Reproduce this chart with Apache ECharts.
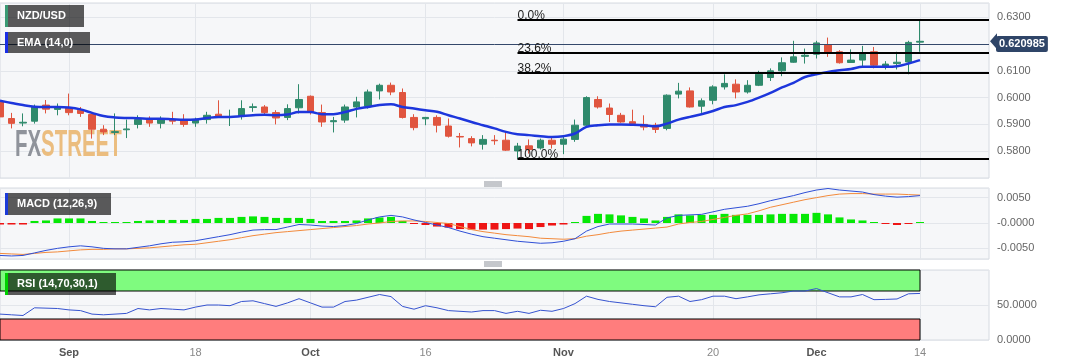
<!DOCTYPE html>
<html><head><meta charset="utf-8">
<script src="https://cdn.jsdelivr.net/npm/echarts@6/dist/echarts.min.js"></script>
<style>html,body{margin:0;padding:0;background:#fff}#c{width:1067px;height:360px}</style>
</head><body><div id="c"></div>
<script>
// ---- categories (trading days, 2023) ----
const categories = [
 '08-24','08-25','08-28','08-29','08-30','08-31',
 '09-01','09-04','09-05','09-06','09-07','09-08','09-11','09-12','09-13','09-14','09-15','09-18','09-19','09-20','09-21','09-22','09-25','09-26','09-27','09-28','09-29',
 '10-02','10-03','10-04','10-05','10-06','10-09','10-10','10-11','10-12','10-13','10-16','10-17','10-18','10-19','10-20','10-23','10-24','10-25','10-26','10-27','10-30','10-31',
 '11-01','11-02','11-03','11-06','11-07','11-08','11-09','11-10','11-13','11-14','11-15','11-16','11-17','11-20','11-21','11-22','11-23','11-24','11-27','11-28','11-29','11-30',
 '12-01','12-04','12-05','12-06','12-07','12-08','12-11','12-12','12-13','12-14',
 '12-15','12-18','12-19','12-20','12-21','12-22'
];
const tickCats  = ['09-01','09-18','10-02','10-16','11-01','11-20','12-01','12-14'];
const tickTexts = ['Sep','18','Oct','16','Nov','20','Dec','14'];
const tickMonth = [true,false,true,false,true,false,true,false];

// ---- candles: [open, close, low, high] ----
const candles = [
 [0.5984,0.5928,0.5920,0.5990],[0.5922,0.5904,0.5885,0.5943],[0.5905,0.5908,0.5893,0.5941],[0.5912,0.5965,0.5903,0.5974],
 [0.5972,0.5957,0.5941,0.5991],[0.5956,0.5962,0.5934,0.5978],[0.5962,0.5944,0.5934,0.6015],[0.5953,0.5941,0.5928,0.5965],
 [0.5937,0.5882,0.5847,0.5939],[0.5882,0.5872,0.5860,0.5897],[0.5870,0.5873,0.5860,0.5941],[0.5880,0.5883,0.5849,0.5918],
 [0.5900,0.5918,0.5885,0.5934],[0.5918,0.5905,0.5891,0.5930],[0.5904,0.5918,0.5885,0.5930],[0.5918,0.5912,0.5900,0.5947],
 [0.5913,0.5900,0.5891,0.5938],[0.5905,0.5918,0.5891,0.5925],[0.5918,0.5934,0.5903,0.5947],[0.5938,0.5931,0.5926,0.5990],
 [0.5926,0.5929,0.5894,0.5955],[0.5931,0.5959,0.5918,0.5990],[0.5963,0.5966,0.5947,0.5978],[0.5965,0.5944,0.5938,0.5972],
 [0.5944,0.5924,0.5900,0.5953],[0.5926,0.5959,0.5916,0.5975],[0.5962,0.5993,0.5941,0.6050],[0.6005,0.5947,0.5937,0.6008],
 [0.5944,0.5909,0.5891,0.5974],[0.5910,0.5914,0.5870,0.5928],[0.5916,0.5965,0.5906,0.5974],[0.5965,0.5984,0.5926,0.6003],
 [0.5968,0.6021,0.5959,0.6030],[0.6025,0.6046,0.5993,0.6052],[0.6046,0.6021,0.6009,0.6056],[0.6019,0.5926,0.5922,0.6034],
 [0.5926,0.5888,0.5878,0.5938],[0.5921,0.5926,0.5897,0.5928],[0.5926,0.5897,0.5870,0.5934],[0.5894,0.5856,0.5851,0.5922],
 [0.5855,0.5853,0.5814,0.5868],[0.5847,0.5831,0.5818,0.5856],[0.5826,0.5844,0.5806,0.5860],[0.5841,0.5839,0.5824,0.5860],
 [0.5841,0.5804,0.5801,0.5872],[0.5801,0.5819,0.5772,0.5831],[0.5820,0.5806,0.5791,0.5844],[0.5812,0.5841,0.5806,0.5847],
 [0.5841,0.5826,0.5810,0.5856],[0.5826,0.5845,0.5789,0.5856],[0.5844,0.5897,0.5835,0.5918],[0.5897,0.6000,0.5891,0.6005],
 [0.5993,0.5965,0.5959,0.6005],[0.5961,0.5937,0.5909,0.5978],[0.5934,0.5909,0.5906,0.5943],[0.5910,0.5903,0.5897,0.5955],
 [0.5900,0.5890,0.5878,0.5934],[0.5897,0.5881,0.5868,0.5906],[0.5885,0.6009,0.5878,0.6012],[0.6013,0.6024,0.5997,0.6055],
 [0.6025,0.5965,0.5963,0.6038],[0.5968,0.5988,0.5943,0.5997],[0.5990,0.6040,0.5975,0.6046],[0.6040,0.6053,0.6030,0.6087],
 [0.6050,0.6021,0.5997,0.6068],[0.6021,0.6046,0.6015,0.6065],[0.6046,0.6087,0.6043,0.6100],[0.6075,0.6100,0.6062,0.6109],
 [0.6100,0.6130,0.6080,0.6150],[0.6132,0.6152,0.6130,0.6212],[0.6154,0.6158,0.6127,0.6183],[0.6162,0.6204,0.6146,0.6212],
 [0.6196,0.6167,0.6152,0.6224],[0.6171,0.6130,0.6127,0.6177],[0.6131,0.6140,0.6130,0.6180],[0.6140,0.6167,0.6115,0.6193],
 [0.6171,0.6121,0.6109,0.6189],[0.6117,0.6125,0.6105,0.6136],[0.6127,0.6132,0.6105,0.6171],[0.6133,0.6206,0.6087,0.6212],
 [0.6207,0.6210,0.6171,0.6289]
];

// ---- EMA(14) ----
const ema14 = [
 0.5988,0.5980,0.5972,0.5966,0.5965,0.5965,0.5963,0.5956,0.5943,0.5931,0.5926,0.5924,0.5923,0.5921,0.5921,0.5919,
 0.5917,0.5918,0.5924,0.5928,0.5928,0.5931,0.5934,0.5936,0.5934,0.5937,0.5946,0.5946,0.5938,0.5938,0.5946,0.5958,
 0.5965,0.5972,0.5975,0.5965,0.5959,0.5953,0.5947,0.5934,0.5922,0.5909,0.5897,0.5885,0.5872,0.5863,0.5860,0.5856,
 0.5853,0.5856,0.5866,0.5891,0.5897,0.5900,0.5900,0.5899,0.5897,0.5893,0.5903,0.5918,0.5928,0.5938,0.5950,0.5965,
 0.5972,0.5984,0.6000,0.6018,0.6038,0.6055,0.6077,0.6087,0.6096,0.6102,0.6107,0.6115,0.6115,0.6115,0.6117,0.6127,0.6140
];

// ---- Fibonacci levels and last price ----
const fibLevels = [0.6289, 0.6167, 0.6092, 0.5772];
const fibLabels = ['0.0%', '23.6%', '38.2%', '100.0%'];
const fibStartCat = '10-26';
const lastPrice = 0.620985;

// ---- MACD (12,26,9) ----
const macdLine = [
 -0.0064,-0.0065,-0.0064,-0.0059,-0.0054,-0.0050,-0.0047,-0.0045,-0.0047,-0.0050,-0.0051,-0.0051,-0.0048,-0.0045,-0.0041,-0.0038,
 -0.0037,-0.0035,-0.0031,-0.0027,-0.0023,-0.0018,-0.0014,-0.0013,-0.0013,-0.0008,-0.0003,-0.0004,-0.0006,-0.0007,-0.0005,-0.0001,
 0.0006,0.0012,0.0015,0.0012,0.0006,0.0001,-0.0004,-0.0009,-0.0016,-0.0022,-0.0027,-0.0030,-0.0033,-0.0036,-0.0038,-0.0040,
 -0.0039,-0.0036,-0.0031,-0.0016,-0.0007,-0.0002,-0.0002,-0.0002,-0.0003,-0.0004,0.0010,0.0015,0.0016,0.0017,0.0022,0.0027,
 0.0030,0.0033,0.0038,0.0044,0.0049,0.0054,0.0060,0.0065,0.0068,0.0065,0.0063,0.0061,0.0056,0.0053,0.0051,0.0052,0.0054
];
const macdSignal = [
 -0.0060,-0.0061,-0.0062,-0.0060,-0.0058,-0.0057,-0.0055,-0.0053,-0.0052,-0.0052,-0.0051,-0.0051,-0.0050,-0.0049,-0.0047,-0.0045,
 -0.0043,-0.0042,-0.0039,-0.0036,-0.0033,-0.0029,-0.0025,-0.0022,-0.0019,-0.0017,-0.0015,-0.0013,-0.0011,-0.0009,-0.0007,-0.0005,
 -0.0002,0.0000,0.0003,0.0004,0.0004,0.0003,0.0001,-0.0001,-0.0007,-0.0013,-0.0017,-0.0020,-0.0023,-0.0025,-0.0027,-0.0030,
 -0.0031,-0.0032,-0.0031,-0.0026,-0.0023,-0.0019,-0.0016,-0.0014,-0.0012,-0.0010,-0.0008,-0.0002,0.0001,0.0003,0.0007,0.0011,
 0.0015,0.0018,0.0024,0.0031,0.0036,0.0041,0.0046,0.0050,0.0054,0.0057,0.0058,0.0058,0.0057,0.0057,0.0057,0.0056,0.0055
];
const macdHist = [
 -0.0003,-0.0003,-0.0003,0.0004,0.0005,0.0009,0.0009,0.0009,0.0004,0.0002,0.0001,0.0001,0.0004,0.0005,0.0006,0.0006,
 0.0006,0.0008,0.0008,0.0010,0.0010,0.0012,0.0013,0.0012,0.0010,0.0010,0.0010,0.0008,0.0004,0.0004,0.0004,0.0005,
 0.0009,0.0011,0.0012,0.0004,-0.0001,-0.0004,-0.0007,-0.0009,-0.0012,-0.0013,-0.0013,-0.0013,-0.0012,-0.0011,-0.0012,-0.0008,
 -0.0005,-0.0003,0.0002,0.0014,0.0018,0.0017,0.0015,0.0012,0.0009,0.0005,0.0012,0.0017,0.0015,0.0016,0.0016,0.0018,
 0.0016,0.0016,0.0016,0.0017,0.0018,0.0018,0.0018,0.0020,0.0017,0.0011,0.0007,0.0005,0.0001,-0.0002,-0.0004,-0.0002,0.0001
];

// ---- RSI (14) ----
const rsi = [
 37,36,35,46,45.5,45,43,42,37,36,37,38,45,43,45,44,
 43,47,50,50,49,55,56,52,48,53,59,53,47,47,55,57,
 61,65,62,48,44,49,46,42,41,40,42,42,38,41,38,42.5,
 41,45,52,62.6,58,55,53,51,49,47.5,61,62.6,55,57.6,62.6,62.6,
 59,61.6,64.5,66,67.5,70,70,73.5,67.5,61.6,61.6,65,57.6,58,58.6,66,66.5
];
const rsiUpper = 70, rsiLower = 30;

const UP = '#2f8a6c', DOWN = '#e0553f';
const GRIDLINE = '#e3e6eb';
const FONT = 'Liberation Sans, Arial, sans-serif';

const chart = echarts.init(document.getElementById('c'), null, {renderer: 'canvas'});

function xAxisFor(gridIndex, showLabels) {
  return {
    type: 'category', gridIndex, data: categories, boundaryGap: false,
    axisLine: {show: false}, axisTick: {show: false},
    splitLine: {show: true, interval: (i, v) => tickCats.includes(v), lineStyle: {color: GRIDLINE, width: 1}},
    axisLabel: {
      show: showLabels, interval: (i, v) => tickCats.includes(v), margin: 7, fontSize: 11, fontFamily: FONT,
      formatter: v => { const k = tickCats.indexOf(v); if (k < 0) return ''; return tickMonth[k] ? '{b|' + tickTexts[k] + '}' : '{n|' + tickTexts[k] + '}'; },
      rich: {b: {fontWeight: 'bold', color: '#555', fontSize: 11, fontFamily: FONT}, n: {color: '#888', fontSize: 11, fontFamily: FONT}}
    }
  };
}

const gridBase = {left: 0, right: 78, show: true, backgroundColor: '#f6f7f9', borderColor: '#d6dae1', borderWidth: 1, containLabel: false, outerBoundsMode: 'none'};

const fibMark = fibLevels.map((v, k) => [
  {xAxis: fibStartCat, yAxis: v, lineStyle: {color: '#000', width: 2, type: 'solid'},
   label: {show: true, position: 'insideStartTop', formatter: fibLabels[k], color: '#222', fontSize: 12, fontFamily: FONT, distance: [0, -2]}},
  {xAxis: categories[categories.length - 1], yAxis: v}
]);

const option = {
  animation: false,
  backgroundColor: '#ffffff',
  textStyle: {fontFamily: FONT},
  grid: [
    Object.assign({top: 3, height: 175}, gridBase),
    Object.assign({top: 188, height: 71}, gridBase),
    Object.assign({top: 270, height: 70}, gridBase)
  ],
  xAxis: [xAxisFor(0, false), xAxisFor(1, false), xAxisFor(2, true)],
  yAxis: [
    {type: 'value', gridIndex: 0, position: 'right', min: 0.57, max: 0.6353, interval: 0.01, scale: true,
     axisLine: {show: false}, axisTick: {show: false}, splitLine: {lineStyle: {color: GRIDLINE}},
     axisLabel: {color: '#666', fontSize: 11, margin: 8, showMaxLabel: false, showMinLabel: false,
       formatter: v => Math.abs(v - 0.62) < 1e-6 ? '' : v.toFixed(4)}},
    {type: 'value', gridIndex: 1, position: 'right', min: -0.0071, max: 0.0069, splitNumber: 3,
     axisLine: {show: false}, axisTick: {show: false}, splitLine: {lineStyle: {color: GRIDLINE}},
     axisLabel: {color: '#666', fontSize: 11, margin: 8, showMaxLabel: false, showMinLabel: false,
       formatter: v => Math.abs(v) < 1e-9 ? '-0.0000' : v.toFixed(4)}},
    {type: 'value', gridIndex: 2, position: 'right', min: 0, max: 100, interval: 50,
     axisLine: {show: false}, axisTick: {show: false}, splitLine: {lineStyle: {color: GRIDLINE}},
     axisLabel: {color: '#666', fontSize: 11, margin: 8, showMaxLabel: false, formatter: v => v.toFixed(4)}}
  ],
  series: [
    {type: 'candlestick', name: 'NZD/USD', xAxisIndex: 0, yAxisIndex: 0, data: candles, barWidth: 7, z: 3,
     itemStyle: {color: UP, color0: DOWN, borderColor: UP, borderColor0: DOWN, borderColorDoji: UP, borderWidth: 1},
     markLine: {silent: true, symbol: ['none', 'none'], animation: false,
       data: [
         {yAxis: lastPrice, lineStyle: {color: '#34486b', width: 1, type: 'solid'},
          label: {show: true, position: 'end', distance: 7, formatter: String(lastPrice), color: '#fff', fontWeight: 'bold',
                  fontSize: 11, fontFamily: FONT, backgroundColor: '#2f4568', padding: [3, 3, 2, 3], borderRadius: 2}}
       ].concat(fibMark)}
    },
    {type: 'line', name: 'EMA (14,0)', xAxisIndex: 0, yAxisIndex: 0, data: ema14, showSymbol: false, smooth: 0.35, z: 4,
     lineStyle: {color: '#1d36dc', width: 2.5}},
    {type: 'bar', name: 'hist', xAxisIndex: 1, yAxisIndex: 1, data: macdHist, barWidth: 8, barMinHeight: 1, z: 2,
     itemStyle: {color: p => p.value >= 0 ? '#06e806' : '#ee1515'}},
    {type: 'line', name: 'MACD', xAxisIndex: 1, yAxisIndex: 1, data: macdLine, showSymbol: false, z: 4,
     lineStyle: {color: '#2f4fd6', width: 1}},
    {type: 'line', name: 'Signal', xAxisIndex: 1, yAxisIndex: 1, data: macdSignal, showSymbol: false, z: 3,
     lineStyle: {color: '#f28a3c', width: 1}},
    {type: 'line', name: 'RSI', xAxisIndex: 2, yAxisIndex: 2, data: rsi, showSymbol: false, z: 4,
     lineStyle: {color: '#3653cf', width: 1},
     markArea: {silent: true, data: [
       [{xAxis: categories[0], yAxis: rsiUpper, itemStyle: {color: '#7ffb7f', borderColor: '#000', borderWidth: 1}},
        {xAxis: categories[candles.length - 1], yAxis: 100}],
       [{xAxis: categories[0], yAxis: 0, itemStyle: {color: '#ff7d7d', borderColor: '#000', borderWidth: 1}},
        {xAxis: categories[candles.length - 1], yAxis: rsiLower}]
     ]}}
  ]
};
chart.setOption(option);

// ---- overlay decorations (legend tags, watermark, separators, price arrow) ----
function tag(x, y, w, h, stripe, text) {
  return {type: 'group', x, y, z: 100, children: [
    {type: 'rect', shape: {x: 0, y: 0, width: w, height: h}, style: {fill: 'rgba(0,0,0,0.64)'}, z: 100},
    {type: 'rect', shape: {x: 0, y: 0, width: 3, height: h}, style: {fill: stripe}, z: 101},
    {type: 'text', x: 12, y: h / 2, z: 101, style: {text, fill: '#fff', font: 'bold 11px ' + FONT, textVerticalAlign: 'middle'}}
  ]};
}
function separator(cx, cy) {
  return {type: 'group', x: cx, y: cy, z: 50, children: [0, 2, 4].map(d => ({
    type: 'line', shape: {x1: -9, y1: d, x2: 9, y2: d}, style: {stroke: '#8a8f98', lineWidth: 1}}))};
}
const py = chart.convertToPixel({yAxisIndex: 0}, lastPrice);
const rightEdge = chart.convertToPixel({xAxisIndex: 0}, categories[categories.length - 1]);

chart.setOption({graphic: [
  {type: 'text', x: 15, y: 146, z: 1, scaleX: 0.585, scaleY: 1.04, style: {text: 'FX', fill: '#8f939b', font: 'bold 35px ' + FONT, textVerticalAlign: 'middle'}},
  {type: 'text', x: 41, y: 146, z: 1, scaleX: 0.585, scaleY: 1.04, style: {text: 'STREET', fill: '#ebbd7f', font: 'bold 35px ' + FONT, textVerticalAlign: 'middle'}},
  tag(5, 5, 79, 22, '#3a9a74', 'NZD/USD'),
  tag(5, 32, 85, 21, '#1a2ee6', 'EMA (14,0)'),
  tag(5, 193, 106, 22, '#1a3ad8', 'MACD (12,26,9)'),
  tag(5, 273, 111, 22, '#00d000', 'RSI (14,70,30,1)'),
  separator(493, 182),
  separator(493, 262),
  {type: 'polygon', z: 60, shape: {points: [[rightEdge + 1, py], [rightEdge + 8, py - 8], [rightEdge + 8, py + 8]]}, style: {fill: '#2f4568'}}
]});
</script>
</body></html>
